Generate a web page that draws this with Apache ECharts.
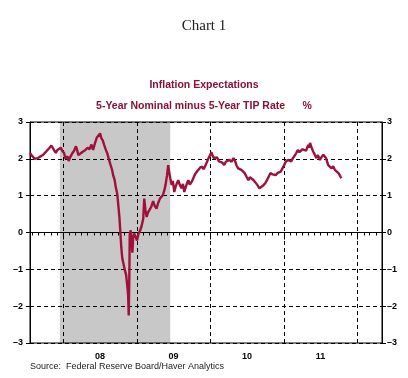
<!DOCTYPE html>
<html>
<head>
<meta charset="utf-8">
<title>Chart 1</title>
<script src="https://cdn.jsdelivr.net/npm/echarts@6/dist/echarts.min.js"></script>
<style>
    html, body { margin: 0; padding: 0; background: #fff; }
    #chart_main { width: 408px; height: 378px; }
</style>
</head>
<body>
<div id="chart_main"></div>
<script>
// 5-Year Nominal minus 5-Year TIP Rate
var dates = [
    '2007-07-20', '2007-07-28', '2007-08-05', '2007-08-12', '2007-08-20', '2007-08-28', '2007-09-05', '2007-09-15',
    '2007-09-25', '2007-10-05', '2007-10-15', '2007-10-25', '2007-11-03', '2007-11-10', '2007-11-18', '2007-11-25',
    '2007-12-03', '2007-12-12', '2007-12-20', '2007-12-27', '2008-01-05', '2008-01-12', '2008-01-16', '2008-01-22',
    '2008-01-28', '2008-02-04', '2008-02-10', '2008-02-16', '2008-02-24', '2008-03-04', '2008-03-10', '2008-03-16',
    '2008-03-24', '2008-04-03', '2008-04-12', '2008-04-20', '2008-04-30', '2008-05-10', '2008-05-20', '2008-05-28',
    '2008-06-05', '2008-06-15', '2008-06-24', '2008-07-02', '2008-07-08', '2008-07-15', '2008-07-22', '2008-07-30',
    '2008-08-07', '2008-08-15', '2008-08-22', '2008-08-30', '2008-09-05', '2008-09-12', '2008-09-18', '2008-09-25',
    '2008-10-01', '2008-10-06', '2008-10-10', '2008-10-15', '2008-10-20', '2008-10-28', '2008-11-03', '2008-11-08',
    '2008-11-13', '2008-11-18', '2008-11-21', '2008-11-24', '2008-11-26', '2008-12-01', '2008-12-05', '2008-12-09',
    '2008-12-13', '2008-12-18', '2008-12-24', '2009-01-01', '2009-01-08', '2009-01-17', '2009-01-25', '2009-02-01',
    '2009-02-06', '2009-02-12', '2009-02-18', '2009-02-25', '2009-03-05', '2009-03-13', '2009-03-22', '2009-03-30',
    '2009-04-08', '2009-04-16', '2009-04-25', '2009-05-03', '2009-05-10', '2009-05-17', '2009-05-23', '2009-05-30',
    '2009-06-05', '2009-06-10', '2009-06-16', '2009-06-22', '2009-06-28', '2009-07-05', '2009-07-12', '2009-07-19',
    '2009-07-25', '2009-08-01', '2009-08-10', '2009-08-17', '2009-08-24', '2009-09-01', '2009-09-07', '2009-09-13',
    '2009-09-20', '2009-09-30', '2009-10-08', '2009-10-16', '2009-10-25', '2009-11-02', '2009-11-10', '2009-11-20',
    '2009-11-28', '2009-12-05', '2009-12-13', '2009-12-22', '2010-01-01', '2010-01-05', '2010-01-12', '2010-01-18',
    '2010-01-25', '2010-02-02', '2010-02-12', '2010-02-20', '2010-02-28', '2010-03-10', '2010-03-18', '2010-03-26',
    '2010-04-05', '2010-04-15', '2010-04-25', '2010-05-02', '2010-05-10', '2010-05-18', '2010-05-26', '2010-06-03',
    '2010-06-12', '2010-06-20', '2010-06-28', '2010-07-08', '2010-07-16', '2010-07-25', '2010-08-03', '2010-08-10',
    '2010-08-20', '2010-09-01', '2010-09-10', '2010-09-22', '2010-10-01', '2010-10-08', '2010-10-16', '2010-10-25',
    '2010-11-05', '2010-11-20', '2010-12-01', '2010-12-15', '2010-12-28', '2011-01-10', '2011-01-20', '2011-02-05',
    '2011-02-14', '2011-02-22', '2011-03-02', '2011-03-10', '2011-03-18', '2011-03-25', '2011-04-03', '2011-04-12',
    '2011-04-20', '2011-05-01', '2011-05-05', '2011-05-10', '2011-05-17', '2011-05-25', '2011-06-02', '2011-06-10',
    '2011-06-18', '2011-06-28', '2011-07-06', '2011-07-15', '2011-07-22', '2011-07-28', '2011-08-03', '2011-08-08',
    '2011-08-16', '2011-08-25', '2011-09-02', '2011-09-10', '2011-09-18', '2011-09-28', '2011-10-05', '2011-10-12'
];
var values = [
    2.16, 2.10, 2.05, 2.00, 1.98, 2.02, 2.06, 2.08,
    2.12, 2.18, 2.24, 2.30, 2.36, 2.30, 2.22, 2.16,
    2.24, 2.28, 2.30, 2.22, 2.16, 2.00, 1.96, 2.07,
    1.94, 2.04, 2.10, 2.16, 2.22, 2.34, 2.24, 2.10,
    2.14, 2.18, 2.16, 2.24, 2.30, 2.26, 2.39, 2.24,
    2.40, 2.57, 2.62, 2.69, 2.56, 2.50, 2.38, 2.25,
    2.14, 1.98, 1.85, 1.71, 1.55, 1.43, 1.22, 1.05,
    0.70, 0.40, 0.05, -0.40, -0.70, -0.90, -1.05, -1.15,
    -1.40, -1.70, -2.25, -1.20, -0.05, 0.06, -0.20, -0.55,
    -0.15, -0.03, -0.10, -0.22, -0.05, 0.06, 0.20, 0.38,
    0.92, 0.60, 0.42, 0.55, 0.62, 0.70, 0.85, 0.72,
    0.65, 0.80, 0.92, 0.88, 1.02, 1.15, 1.30, 1.55,
    1.83, 1.62, 1.45, 1.29, 1.40, 1.10, 1.25, 1.35,
    1.42, 1.30, 1.20, 1.32, 1.10, 1.25, 1.35, 1.42,
    1.30, 1.38, 1.48, 1.58, 1.65, 1.70, 1.76, 1.79,
    1.72, 1.80, 1.90, 2.02, 2.12, 2.18, 2.08, 2.02,
    1.97, 2.04, 1.93, 1.98, 1.90, 1.83, 1.92, 1.88,
    1.97, 1.92, 2.02, 1.95, 1.82, 1.74, 1.78, 1.70,
    1.65, 1.61, 1.52, 1.42, 1.50, 1.47, 1.42, 1.38,
    1.30, 1.20, 1.25, 1.29, 1.35, 1.42, 1.40, 1.61,
    1.58, 1.56, 1.62, 1.65, 1.78, 1.93, 1.97, 1.93,
    2.02, 1.97, 2.15, 2.24, 2.18, 2.15, 2.26, 2.29,
    2.22, 2.38, 2.30, 2.43, 2.32, 2.20, 2.12, 2.02,
    2.10, 1.97, 2.05, 2.11, 2.06, 2.02, 1.92, 1.83,
    1.78, 1.74, 1.80, 1.70, 1.66, 1.61, 1.55, 1.47
];
var recession = ['2007-12-15', '2009-06-15'];
var axisRange = ['2007-07-20', '2012-05-01'];
var yearLabels = { 2008: '08', 2009: '09', 2010: '10', 2011: '11' };
var yMin = -3, yMax = 3, yStep = 1;

var DAY = 24 * 3600 * 1000;
var lineColor = '#A0103A';
var titleColor = '#8C0F35';
var fontFamily = '"Liberation Sans", Arial, sans-serif';

var chart = echarts.init(document.getElementById('chart_main'));

function yLabel(v) {
    return String(v).replace('-', '\u2013');
}

var seriesData = [];
for (var i = 0; i < dates.length; i++) {
    seriesData.push([dates[i], values[i]]);
}

function makeYAxis(position, margin, showSplit) {
    return {
        type : 'value',
        position : position,
        min : yMin,
        max : yMax,
        interval : yStep,
        z : 1,
        axisLine : { show : true, lineStyle : { color : '#000', width : 1 } },
        axisTick : { show : true, length : 4, lineStyle : { color : '#000' } },
        axisLabel : {
            formatter : yLabel,
            margin : margin,
            color : '#000',
            fontSize : 9,
            fontWeight : 'bold',
            fontFamily : fontFamily
        },
        splitLine : {
            show : showSplit,
            lineStyle : { color : '#000', type : [ 4, 3 ], width : 1 }
        }
    };
}

var option = {
    animation : false,
    backgroundColor : '#fff',
    title : [ {
        text : 'Chart 1',
        left : 'center',
        top : 14,
        textStyle : { fontFamily : '"Liberation Serif", "Times New Roman", serif', fontSize : 15, fontWeight : 'normal', color : '#222' }
    }, {
        text : 'Inflation Expectations',
        left : 'center',
        top : 75,
        textStyle : { fontFamily : fontFamily, fontSize : 10.5, fontWeight : 'bold', color : titleColor }
    }, {
        text : '5-Year Nominal minus 5-Year TIP Rate      %',
        left : 'center',
        top : 96,
        textStyle : { fontFamily : fontFamily, fontSize : 10.5, fontWeight : 'bold', color : titleColor }
    } ],
    graphic : [ {
        type : 'text',
        left : 30,
        top : 362,
        style : {
            text : 'Source:  Federal Reserve Board/Haver Analytics',
            fontFamily : fontFamily,
            fontSize : 9,
            fill : '#222'
        }
    } ],
    grid : {
        left : 30,
        right : 26,
        top : 122,
        bottom : 35,
        show : true,
        z : 1,
        borderColor : '#000',
        borderWidth : 1,
        backgroundColor : 'transparent'
    },
    xAxis : [ {
        // monthly ticks and mid-year labels
        type : 'time',
        position : 'bottom',
        min : axisRange[0],
        max : axisRange[1],
        minInterval : 28 * DAY,
        maxInterval : 31 * DAY,
        splitNumber : 60,
        z : 1,
        axisLine : { show : true, lineStyle : { color : '#000', width : 1 } },
        axisTick : { show : true, length : 3, lineStyle : { color : '#000' } },
        axisLabel : {
            margin : 9,
            color : '#000',
            fontSize : 9,
            fontWeight : 'bold',
            fontFamily : fontFamily,
            hideOverlap : false,
            formatter : function(value) {
                var d = new Date(value);
                if (d.getMonth() == 6 && d.getDate() == 1 && yearLabels[d.getFullYear()]) {
                    return yearLabels[d.getFullYear()];
                }
                return '';
            }
        },
        splitLine : { show : false }
    }, {
        // year boundaries
        type : 'time',
        position : 'bottom',
        min : axisRange[0],
        max : axisRange[1],
        minInterval : 365 * DAY,
        maxInterval : 366 * DAY,
        z : 1,
        axisLine : { show : false },
        axisTick : { show : true, length : 7, lineStyle : { color : '#000' } },
        axisLabel : { show : false },
        splitLine : { show : true, lineStyle : { color : '#000', type : [ 4, 3 ], width : 1 } }
    } ],
    yAxis : [ makeYAxis('left', 7, true), makeYAxis('right', 5, false) ],
    series : [ {
        name : 'Inflation Expectations',
        type : 'line',
        xAxisIndex : 0,
        yAxisIndex : 0,
        z : 3,
        symbol : 'none',
        data : seriesData,
        lineStyle : { color : lineColor, width : 2.4 },
        markArea : {
            silent : true,
            z : 0,
            itemStyle : { color : '#c8c8c8' },
            data : [ [ { xAxis : recession[0] }, { xAxis : recession[1] } ] ]
        },
        markLine : {
            silent : true,
            z : 2,
            symbol : 'none',
            label : { show : false },
            lineStyle : { color : '#000', type : 'solid', width : 1 },
            data : [ { yAxis : 0 } ]
        }
    } ]
};

chart.setOption(option);
</script>
</body>
</html>
